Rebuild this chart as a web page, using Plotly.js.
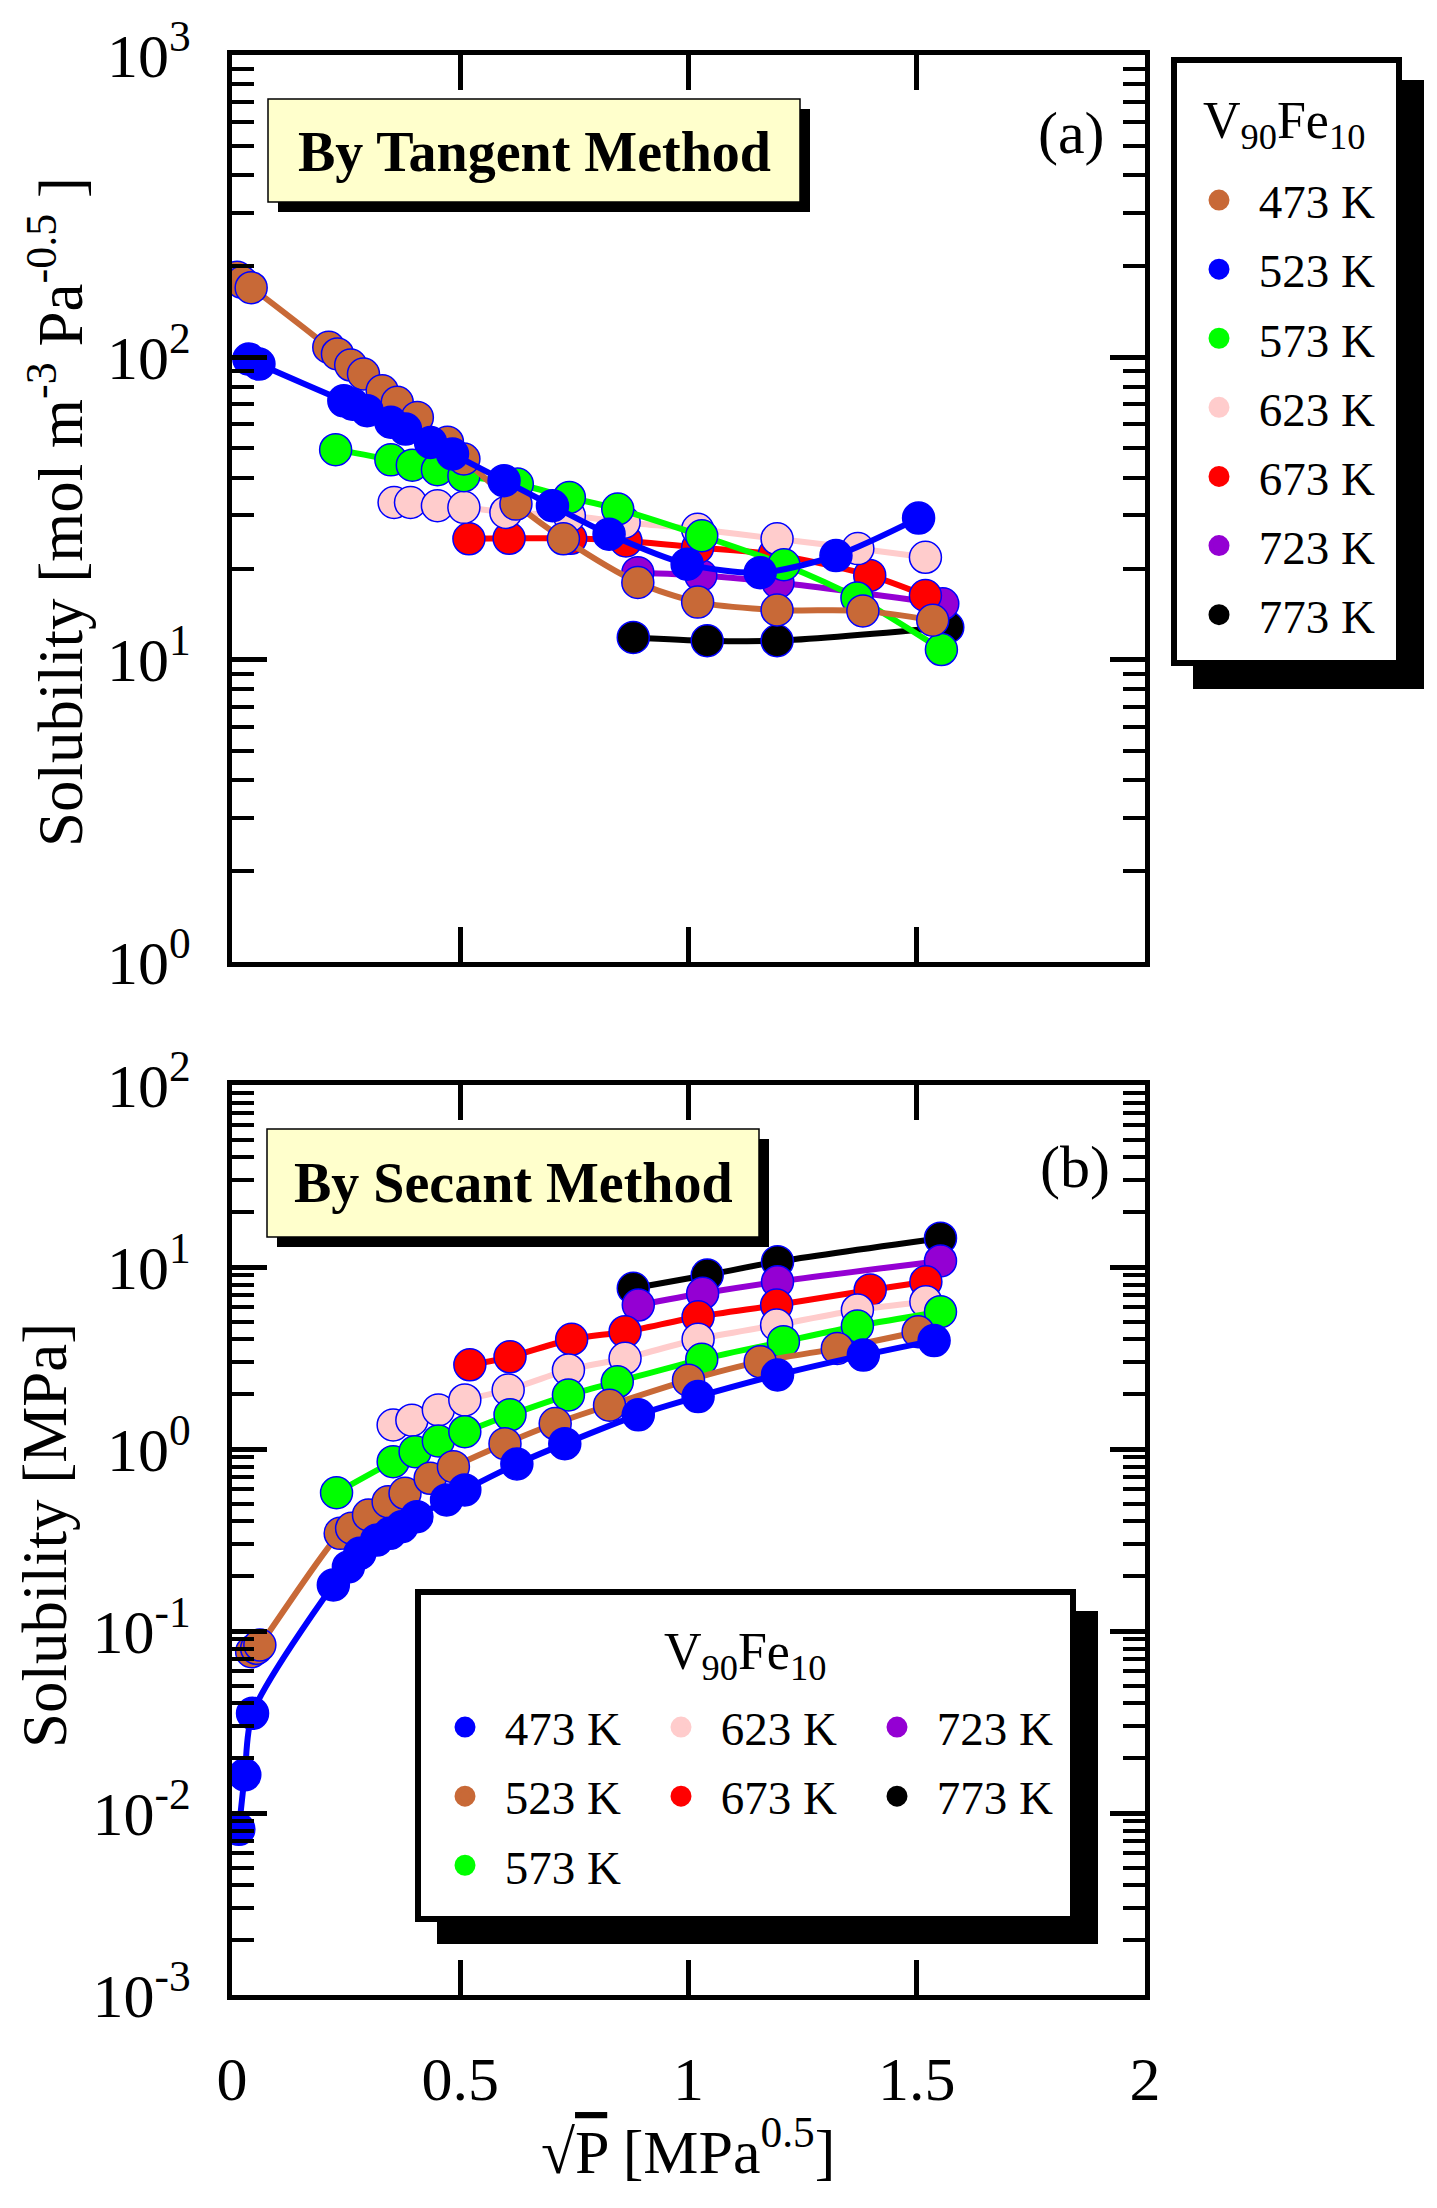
<!DOCTYPE html>
<html>
<head>
<meta charset="utf-8">
<script src="https://cdn.plot.ly/plotly-3.0.1.min.js"></script>
<style>html,body{margin:0;padding:0;background:#fff}</style>
</head>
<body>
<div id="chart" style="width:1437px;height:2208px"></div>
<script>
// ---------- DATA ----------
const temps = ['473 K','523 K','573 K','623 K','673 K','723 K','773 K'];

// Panel (a) – by tangent method  [mol m^-3 Pa^-0.5]
const a473x = [0.011,0.022,0.042,0.212,0.231,0.260,0.288,0.329,0.362,0.406,0.472,0.508,0.622,0.726,0.889,1.020,1.194,1.382,1.535];
const a473y = [184,177,170,108,102.6,94.3,88.1,77.5,71,63.3,52.4,46.1,32.7,25.1,18.0,15.5,14.6,14.5,13.5];
const a523x = [0.037,0.059,0.245,0.264,0.296,0.348,0.380,0.435,0.483,0.596,0.702,0.826,0.997,1.157,1.323,1.504];
const a523y = [98.7,95,71.8,70,66.6,61,57.9,52.3,47.9,39.1,32.3,26.0,20.7,19.4,22.1,29.4];
const a573x = [0.227,0.348,0.395,0.450,0.508,0.625,0.739,0.845,1.029,1.209,1.369,1.554];
const a573y = [49.5,45.8,44.0,42.5,40.6,38.1,34.4,31.5,25.7,20.6,16.0,10.8];
const a623x = [0.355,0.391,0.450,0.508,0.600,0.739,0.859,1.020,1.194,1.371,1.519];
const a623y = [33.1,33.1,32.3,31.9,30.7,29.9,28.5,27.0,25.1,23.3,21.8];
const a673x = [0.519,0.607,0.742,0.863,1.020,1.188,1.397,1.519];
const a673y = [25.1,25.2,25.2,24.7,23.5,22.3,19.0,16.3];
const a723x = [0.889,1.027,1.196,1.557];
const a723y = [19.4,19.0,18.0,15.3];
const a773x = [0.879,1.041,1.194,1.568];
const a773y = [11.85,11.55,11.55,12.8];

// Panel (b) – by secant method  [MPa]
const b473x = [0.015,0.028,0.045,0.222,0.255,0.280,0.317,0.346,0.372,0.405,0.470,0.510,0.624,0.729,0.890,1.021,1.195,1.383,1.538];
const b473y = [0.00813,0.0162,0.0353,0.179,0.225,0.267,0.316,0.344,0.374,0.425,0.525,0.596,0.827,1.07,1.54,1.94,2.55,3.28,3.94];
const b523x = [0.043,0.054,0.061,0.237,0.262,0.299,0.342,0.379,0.434,0.485,0.598,0.708,0.827,1.000,1.157,1.326,1.503];
const b523y = [0.0769,0.0803,0.0837,0.344,0.367,0.434,0.513,0.571,0.69,0.80,1.07,1.38,1.74,2.39,3.02,3.57,4.41];
const b573x = [0.229,0.353,0.401,0.452,0.510,0.609,0.737,0.844,1.029,1.208,1.370,1.552];
const b573y = [0.575,0.852,0.967,1.107,1.245,1.54,1.98,2.34,3.11,3.89,4.74,5.68];
const b623x = [0.353,0.394,0.452,0.510,0.605,0.737,0.861,1.021,1.193,1.370,1.520];
const b623y = [1.355,1.44,1.64,1.86,2.11,2.72,3.15,4.01,4.80,5.81,6.45];
const b673x = [0.521,0.609,0.744,0.861,1.021,1.193,1.398,1.520];
const b673y = [2.90,3.21,4.01,4.41,5.33,6.18,7.48,8.30];
const b723x = [0.890,1.031,1.195,1.552];
const b723y = [6.18,7.17,8.30,10.8];
const b773x = [0.879,1.041,1.195,1.552];
const b773y = [7.64,9.04,10.7,14.4];

const xTickVals = [0,0.5,1,1.5,2];
const xTickText = ['0','0.5','1','1.5','2'];
const yaTickVals = [1,10,100,1000];
const yaTickText = ['10<sup>0</sup>','10<sup>1</sup>','10<sup>2</sup>','10<sup>3</sup>'];
const ybTickVals = [0.001,0.01,0.1,1,10,100];
const ybTickText = ['10<sup>-3</sup>','10<sup>-2</sup>','10<sup>-1</sup>','10<sup>0</sup>','10<sup>1</sup>','10<sup>2</sup>'];

// ---------- STYLE ----------
const C = {brown:'#C86937', blue:'#0000FF', green:'#00FF00', pink:'#FFCCCC', red:'#FF0000', purple:'#9400D3', black:'#000000'};
const SERIF = 'Liberation Serif, Times New Roman, serif';
const NB = '\u00a0';

const W = 1437, H = 2208;
const L = 232, R = 1145, T = 55, B = 1995;
const px2x = p => (p - L) / (R - L);
const py2y = p => (B - p) / (B - T);

function series(x, y, name, color, xa, ya, legend, rank) {
  const lineTr = {
    x: x, y: y, type: 'scatter', mode: 'lines', xaxis: xa, yaxis: ya, showlegend: false,
    line: {color: color, width: 6, shape: 'spline', smoothing: 0.8}, hoverinfo: 'skip'
  };
  // legend key trace: smaller markers fully hidden beneath the real ones
  const keyTr = {
    x: x, y: y, name: NB + name, type: 'scatter', mode: 'markers', xaxis: xa, yaxis: ya,
    legend: legend, legendrank: rank, legendgroup: legend + name, showlegend: true,
    marker: {size: 16, color: color, line: {color: color, width: 5}}, hoverinfo: 'skip'
  };
  const markTr = {
    x: x, y: y, type: 'scatter', mode: 'markers', xaxis: xa, yaxis: ya, showlegend: false,
    marker: {size: 32, color: color, line: {color: '#0000FF', width: 1.5}}, hoverinfo: 'skip'
  };
  return [lineTr, keyTr, markTr];
}

const traces = [].concat(
  // panel (a): layering order (bottom to top)
  series(a773x, a773y, temps[6], C.black,  'x2', 'y2', 'legend', 7),
  series(a723x, a723y, temps[5], C.purple, 'x2', 'y2', 'legend', 6),
  series(a673x, a673y, temps[4], C.red,    'x2', 'y2', 'legend', 5),
  series(a623x, a623y, temps[3], C.pink,   'x2', 'y2', 'legend', 4),
  series(a573x, a573y, temps[2], C.green,  'x2', 'y2', 'legend', 3),
  series(a473x, a473y, temps[0], C.brown,  'x2', 'y2', 'legend', 1),
  series(a523x, a523y, temps[1], C.blue,   'x2', 'y2', 'legend', 2),
  // panel (b)
  series(b773x, b773y, temps[6], C.black,  'x', 'y', 'legend4', 2),
  series(b723x, b723y, temps[5], C.purple, 'x', 'y', 'legend4', 1),
  series(b673x, b673y, temps[4], C.red,    'x', 'y', 'legend3', 2),
  series(b623x, b623y, temps[3], C.pink,   'x', 'y', 'legend3', 1),
  series(b573x, b573y, temps[2], C.green,  'x', 'y', 'legend2', 3),
  series(b523x, b523y, temps[1], C.brown,  'x', 'y', 'legend2', 2),
  series(b473x, b473y, temps[0], C.blue,   'x', 'y', 'legend2', 1)
);

function minorVals(lo, hi) {
  const v = [];
  for (let e = lo; e < hi; e++) for (let k = 2; k <= 9; k++) v.push(k * Math.pow(10, e));
  return v;
}

const tickFont = {family: SERIF, size: 62, color: '#000'};
function xAxis(anchor, showLabels) {
  return {
    anchor: anchor, range: [0, 2], showline: true, linewidth: 5, linecolor: '#000', mirror: 'ticks',
    ticks: 'inside', ticklen: 35, tickwidth: 5, tickcolor: '#000',
    tickmode: 'array', tickvals: xTickVals, ticktext: xTickText, showticklabels: showLabels,
    tickfont: tickFont, ticklabelstandoff: 26, showgrid: false, zeroline: false
  };
}
function yAxis(domain, range, tv, tt, mlo, mhi) {
  return {
    type: 'log', domain: domain, range: range, showline: true, linewidth: 5, linecolor: '#000', mirror: 'ticks',
    ticks: 'inside', ticklen: 35, tickwidth: 5, tickcolor: '#000',
    tickmode: 'array', tickvals: tv, ticktext: tt, tickfont: tickFont, ticklabelstandoff: 24,
    minor: {tickmode: 'array', tickvals: minorVals(mlo, mhi), ticks: 'inside', ticklen: 22, tickwidth: 4, tickcolor: '#000', showgrid: false},
    showgrid: false, zeroline: false
  };
}

function rect(x0, y0, x1, y1, fill, lw) {
  return {type: 'rect', xref: 'paper', yref: 'paper', x0: px2x(x0), x1: px2x(x1), y0: py2y(y0), y1: py2y(y1),
          fillcolor: fill, line: {color: '#000', width: lw}, layer: 'above'};
}
const shapes = [
  // title box (a)
  rect(278, 109, 810, 212, '#000', 0),
  rect(268, 99, 800, 202, '#FFFFCC', 1.5),
  // title box (b)
  rect(277, 1139, 769, 1247, '#000', 0),
  rect(267, 1129, 759, 1237, '#FFFFCC', 1.5),
  // legend box (a)
  rect(1193, 80, 1424, 689, '#000', 0),
  rect(1174, 60, 1399, 663, '#FFFFFF', 6),
  // legend box (b)
  rect(437, 1611, 1098, 1944, '#000', 0),
  rect(418, 1592, 1073, 1919, '#FFFFFF', 6)
];

function ann(text, x, y, size, opts) {
  return Object.assign({xref: 'paper', yref: 'paper', x: px2x(x), y: py2y(y), xanchor: 'center', yanchor: 'middle',
    text: text, showarrow: false, font: {family: SERIF, size: size, color: '#000'}}, opts || {});
}
const annotations = [
  ann('<b>By Tangent Method</b>', 534, 152, 56),
  ann('<b>By Secant Method</b>', 513, 1183, 56),
  ann('(a)', 1071, 133, 60),
  ann('(b)', 1075, 1167, 60),
  ann('V<sub>90</sub>Fe<sub>10</sub>', 1284, 125, 52),
  ann('V<sub>90</sub>Fe<sub>10</sub>', 745, 1655, 52),
  ann('Solubility [mol m<sup>-3</sup> Pa<sup>-0.5</sup> ]', 56, 512, 63, {textangle: -90}),
  ann('Solubility [MPa]', 45, 1536, 63, {textangle: -90}),
  ann('\u221a<span style="text-decoration:overline">P</span> [MPa<sup>0.5</sup>]', 688, 2147, 62)
];

function leg(xpx, ypx) {
  return {x: px2x(xpx), y: py2y(ypx), xanchor: 'left', yanchor: 'top', orientation: 'v',
          bgcolor: 'rgba(0,0,0,0)', borderwidth: 0, font: {family: SERIF, size: 47, color: '#000'},
          itemsizing: 'trace', itemwidth: 46, tracegroupgap: 5, traceorder: 'grouped'};
}

const layout = {
  width: W, height: H, autosize: false,
  margin: {l: L, r: W - R, t: T, b: H - B, pad: 0},
  paper_bgcolor: '#fff', plot_bgcolor: 'rgba(0,0,0,0)',
  showlegend: true,
  xaxis: xAxis('y', true),
  xaxis2: xAxis('y2', false),
  yaxis: yAxis([0, py2y(1085)], [-3, 2], ybTickVals, ybTickText, -3, 2),
  yaxis2: yAxis([py2y(962), 1], [0, 3], yaTickVals, yaTickText, 0, 3),
  legend: leg(1191, 163),
  legend2: leg(437, 1690),
  legend3: leg(653, 1690),
  legend4: leg(869, 1690),
  shapes: shapes,
  annotations: annotations
};

Plotly.newPlot('chart', traces, layout, {staticPlot: true, displayModeBar: false});
</script>
</body>
</html>
